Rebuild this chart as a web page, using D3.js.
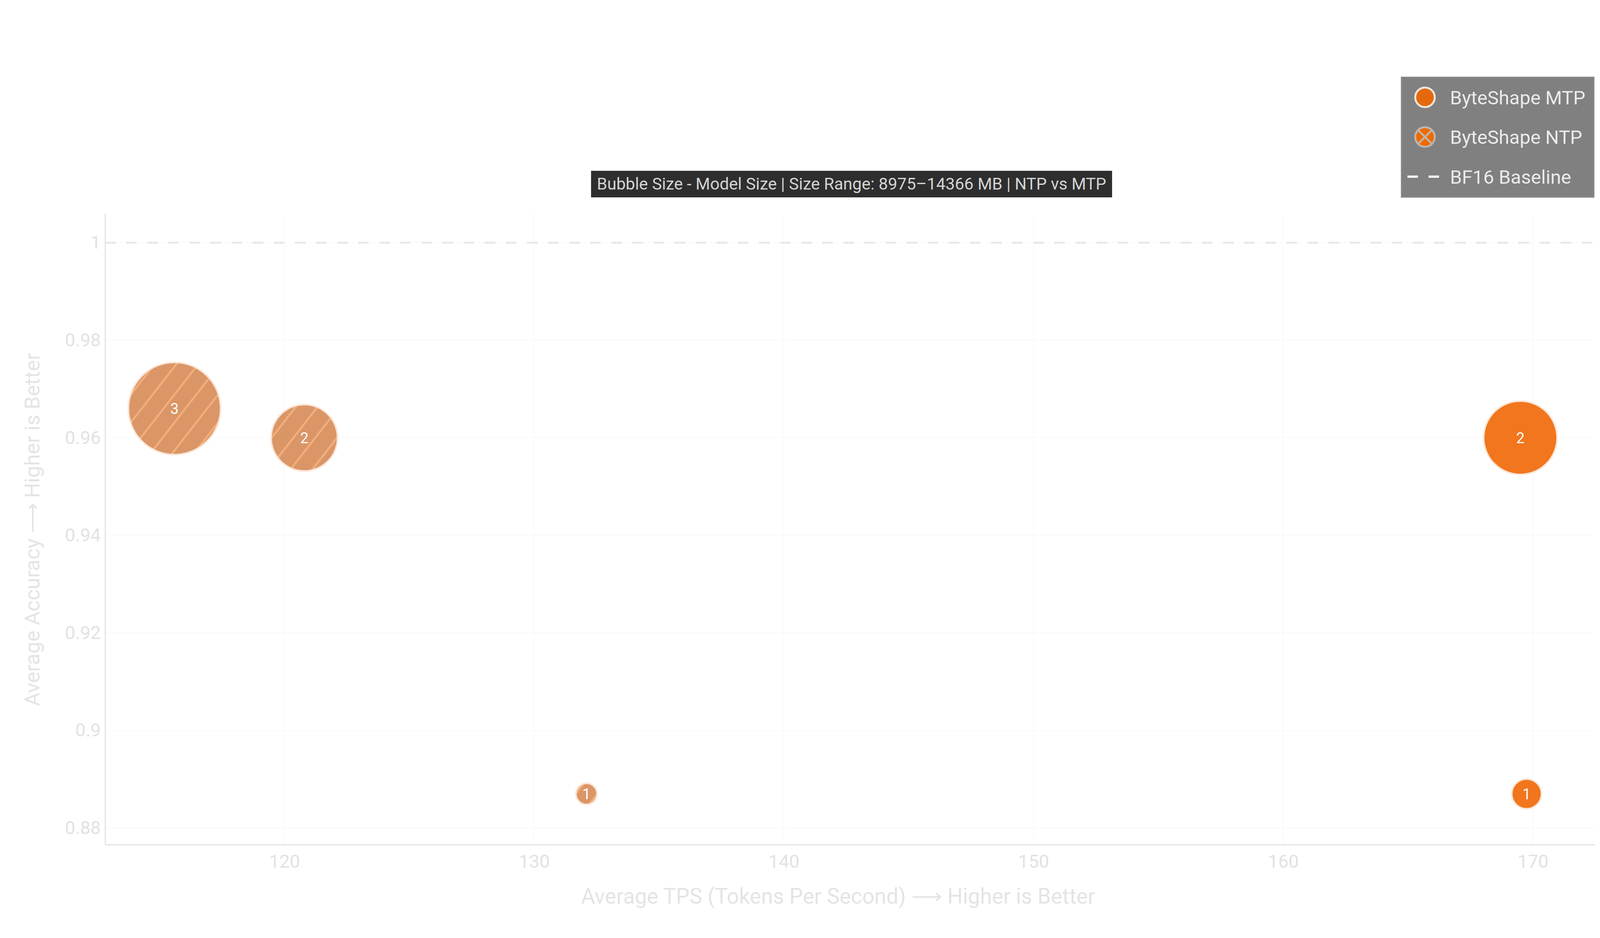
<!DOCTYPE html>
<html>
<head>
<meta charset="utf-8">
<script src="https://cdn.jsdelivr.net/npm/d3@7"></script>
<style>
  body { margin: 0; background: #fff; }
  svg text { font-family: Roboto, "Liberation Sans", sans-serif; }
</style>
</head>
<body>
<div id="container"></div>
<script>
// chart data
let series   = ["NTP", "NTP", "NTP", "MTP", "MTP"];
let labels   = ["3", "2", "1", "2", "1"];
let tps      = [115.6, 120.8, 132.1, 169.5, 169.75];
let accuracy = [0.966, 0.960, 0.887, 0.960, 0.887];
let sizeMB   = [14366, 12410, 8975, 12940, 9630];

let xTicks = [120, 130, 140, 150, 160, 170];
let yTicks = [0.88, 0.9, 0.92, 0.94, 0.96, 0.98, 1];
let baseline = 1;

let legendNames = ["ByteShape MTP", "ByteShape NTP", "BF16 Baseline"];
let titleText = "Bubble Size - Model Size | Size Range: 8975\u201314366 MB | NTP vs MTP";
let xTitle = "Average TPS (Tokens Per Second) \u27F6 Higher is Better";
let yTitle = "Average Accuracy \u27F6 Higher is Better";

let w = 4200;
let h = 2400;
let plotLeft = 269, plotRight = 4082, plotTop = 546, plotBottom = 2161;

let mtpColor = "#f1761d";
let ntpColor = "#d78e5a";

let viz = d3.select("#container")
    .append("svg")
    .attr("width", w)
    .attr("height", h);

// diagonal hatch for the NTP bubbles
let defs = viz.append("defs");
let pat = defs.append("pattern")
    .attr("id", "hatch")
    .attr("patternUnits", "userSpaceOnUse")
    .attr("width", 44)
    .attr("height", 44)
    .attr("patternTransform", "rotate(38)");
pat.append("rect").attr("width", 44).attr("height", 44).attr("fill", ntpColor);
pat.append("line")
    .attr("x1", 22).attr("y1", 0).attr("x2", 22).attr("y2", 44)
    .attr("stroke", "#f2a874").attr("stroke-width", 5);

let xScale = d3.scaleLinear().domain([112.82, 172.47]).range([plotLeft, plotRight]);
let yScale = d3.scaleLinear().domain([0.8766, 1.006]).range([plotBottom, plotTop]);
let rScale = d3.scaleLinear().domain([8975, 14366]).range([27, 118]);

// faint grid
let grid = viz.append("g").classed("grid", true);
grid.selectAll(".gx").data(xTicks).enter().append("line")
    .attr("x1", d => xScale(d)).attr("x2", d => xScale(d))
    .attr("y1", plotTop).attr("y2", plotBottom)
    .attr("stroke", "#f9f9f9").attr("stroke-width", 2);
grid.selectAll(".gy").data(yTicks).enter().append("line")
    .attr("x1", plotLeft).attr("x2", plotRight)
    .attr("y1", d => yScale(d)).attr("y2", d => yScale(d))
    .attr("stroke", "#f9f9f9").attr("stroke-width", 2);

// axes
let xAxis = d3.axisBottom(xScale).tickValues(xTicks).tickSize(0).tickSizeOuter(0).tickPadding(26);
let xAxisGroup = viz.append("g").attr("transform", "translate(0," + plotBottom + ")").call(xAxis);
let yAxis = d3.axisLeft(yScale).tickValues(yTicks).tickSize(0).tickSizeOuter(0).tickPadding(11)
    .tickFormat(d => String(+d.toFixed(2)));
let yAxisGroup = viz.append("g").attr("transform", "translate(" + plotLeft + ",0)").call(yAxis);

[xAxisGroup, yAxisGroup].forEach(g => {
    g.select(".domain").attr("stroke", "#e2e2e2").attr("stroke-width", 3);
    g.selectAll("text").attr("fill", "#e2e2e2").attr("font-size", 47).style("font-family", "Roboto, sans-serif");
});

// BF16 baseline
viz.append("line")
    .attr("x1", plotLeft).attr("x2", plotRight)
    .attr("y1", yScale(baseline)).attr("y2", yScale(baseline))
    .attr("stroke", "#e8e8e8").attr("stroke-width", 5)
    .attr("stroke-dasharray", "27,27");

// bubbles
let points = tps.map((t, i) => ({ tps: t, acc: accuracy[i], size: sizeMB[i], s: series[i], label: labels[i] }));
points.sort((a, b) => b.size - a.size);

let bubbles = viz.append("g").selectAll(".datapoint").data(points).enter()
    .append("g").classed("datapoint", true)
    .attr("transform", d => "translate(" + xScale(d.tps) + "," + yScale(d.acc) + ")");

bubbles.append("circle")
    .attr("r", d => rScale(d.size))
    .attr("fill", d => d.s == "MTP" ? mtpColor : "url(#hatch)")
    .attr("fill-opacity", d => d.s == "MTP" ? 1 : 0.93)
    .attr("stroke", "#fbe5d6")
    .attr("stroke-width", 4);

bubbles.append("text")
    .text(d => d.label)
    .attr("text-anchor", "middle")
    .attr("dy", "0.36em")
    .attr("fill", "#ffffff")
    .attr("font-size", 38);

// axis titles
viz.append("text")
    .attr("x", (plotLeft + plotRight) / 2 - 30).attr("y", 2312)
    .attr("text-anchor", "middle")
    .attr("fill", "#e4e4e4").attr("font-size", 55)
    .text(xTitle);
viz.append("text")
    .attr("transform", "translate(101," + 1355 + ") rotate(-90)")
    .attr("text-anchor", "middle")
    .attr("fill", "#e4e4e4").attr("font-size", 54)
    .text(yTitle);

// title box
let titleG = viz.append("g");
let titleRect = titleG.append("rect").attr("fill", "#2e2e2e");
let tt = titleG.append("text")
    .attr("x", 2180).attr("y", 485)
    .attr("text-anchor", "middle")
    .attr("fill", "#d4d4d4").attr("font-size", 42.5)
    .text(titleText);
let tb = tt.node().getBBox();
titleRect.attr("x", tb.x - 15).attr("y", 437).attr("width", tb.width + 30).attr("height", 68);

// legend
let legend = viz.append("g");
legend.append("rect")
    .attr("x", 3587).attr("y", 197).attr("width", 494).attr("height", 308)
    .attr("fill", "#808080").attr("stroke", "#9a9a9a").attr("stroke-width", 2);

let rows = legend.selectAll(".row").data(legendNames).enter()
    .append("g").attr("transform", (d, i) => "translate(0," + (249 + i * 101.5) + ")");

rows.append("text")
    .attr("x", 3712).attr("dy", "0.36em")
    .attr("fill", "#ebebeb").attr("font-size", 49)
    .text(d => d);

let mtpRow = d3.select(rows.nodes()[0]);
mtpRow.append("circle").attr("cx", 3648).attr("r", 25)
    .attr("fill", "#e4690e").attr("stroke", "#efe5dd").attr("stroke-width", 5);

let ntpRow = d3.select(rows.nodes()[1]);
ntpRow.append("circle").attr("cx", 3648).attr("r", 25)
    .attr("fill", "#ef6900").attr("stroke", "#bdb5ad").attr("stroke-width", 5);
ntpRow.append("path")
    .attr("d", "M" + (3648 - 17) + ",-17L" + (3648 + 17) + ",17M" + (3648 - 17) + ",17L" + (3648 + 17) + ",-17")
    .attr("stroke", "#bdb5ad").attr("stroke-width", 5);

let bfRow = d3.select(rows.nodes()[2]);
bfRow.append("line")
    .attr("x1", 3603).attr("x2", 3684).attr("y1", 0).attr("y2", 0)
    .attr("stroke", "#f2f2f2").attr("stroke-width", 6)
    .attr("stroke-dasharray", "27,27");
</script>
</body>
</html>
